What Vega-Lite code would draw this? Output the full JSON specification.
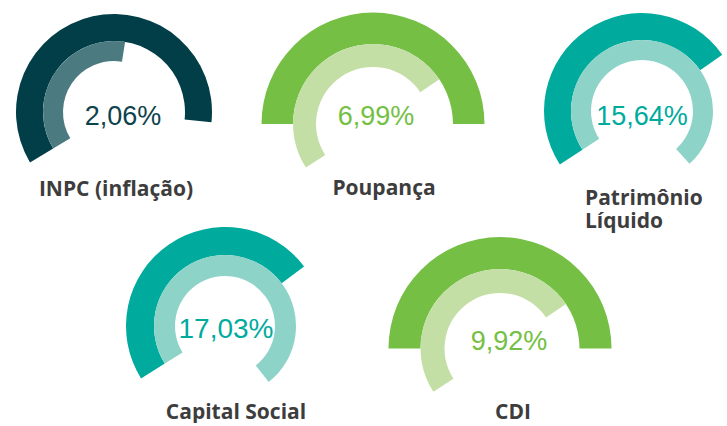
{
  "$schema": "https://vega.github.io/schema/vega-lite/v6.json",
  "padding": {"left": 16, "top": 12, "right": 0, "bottom": 0},
  "background": "white",
  "config": {"view": {"stroke": null}},
  "datasets": {
    "arcos": [
      {"indicador": "INPC", "anel": "externo", "inicio": -121, "fim": 96},
      {"indicador": "INPC", "anel": "interno", "inicio": -121, "fim": 9},
      {"indicador": "Poupança", "anel": "externo", "inicio": -90, "fim": 90},
      {"indicador": "Poupança", "anel": "interno", "inicio": -123, "fim": 56},
      {"indicador": "PL", "anel": "externo", "inicio": -123, "fim": 55},
      {"indicador": "PL", "anel": "interno", "inicio": -123, "fim": 138},
      {"indicador": "CS", "anel": "externo", "inicio": -122, "fim": 53},
      {"indicador": "CS", "anel": "interno", "inicio": -122, "fim": 142},
      {"indicador": "CDI", "anel": "externo", "inicio": -90, "fim": 90},
      {"indicador": "CDI", "anel": "interno", "inicio": -123, "fim": 56}
    ],
    "rotulos": [
      {"indicador": "INPC", "valor": "2,06%", "nome": "INPC (inflação)"},
      {"indicador": "Poupança", "valor": "6,99%", "nome": "Poupança"},
      {"indicador": "PL", "valor": "15,64%", "nome": "Patrimônio\nLíquido"},
      {"indicador": "CS", "valor": "17,03%", "nome": "Capital Social"},
      {"indicador": "CDI", "valor": "9,92%", "nome": "CDI"}
    ]
  },
  "bounds": "flush",
  "spacing": 220,
  "vconcat": [
    {
      "bounds": "flush",
      "spacing": 159,
      "hconcat": [
        {
          "width": 100, "height": 104,
          "layer": [
            {"data": {"name": "arcos"}, "transform": [{"filter": "datum.indicador === 'INPC' && datum.anel === 'externo'"}],
             "mark": {"type": "arc", "radius": 98, "radius2": 71, "color": "#023e47"},
             "encoding": {"theta": {"field": "inicio", "type": "quantitative", "stack": null, "scale": {"type": "linear", "domain": [-180, 180], "range": [-3.14159265, 3.14159265], "zero": false, "nice": false}}, "theta2": {"field": "fim"}}},
            {"data": {"name": "arcos"}, "transform": [{"filter": "datum.indicador === 'INPC' && datum.anel === 'interno'"}],
             "mark": {"type": "arc", "radius": 71, "radius2": 51, "color": "#4b7a80"},
             "encoding": {"theta": {"field": "inicio", "type": "quantitative", "stack": null, "scale": {"type": "linear", "domain": [-180, 180], "range": [-3.14159265, 3.14159265], "zero": false, "nice": false}}, "theta2": {"field": "fim"}}},
            {"data": {"name": "rotulos"}, "transform": [{"filter": "datum.indicador === 'INPC'"}],
             "mark": {"type": "text", "font": "Liberation Sans", "fontSize": 27, "color": "#0d434b", "align": "center", "baseline": "alphabetic", "dx": 9, "dy": 13},
             "encoding": {"text": {"field": "valor", "type": "nominal"}}},
            {"data": {"name": "rotulos"}, "transform": [{"filter": "datum.indicador === 'INPC'"}],
             "mark": {"type": "text", "font": "Open Sans", "fontWeight": "bold", "fontSize": 21, "color": "#3d3d3d", "align": "center", "baseline": "alphabetic", "dx": 2, "dy": 84},
             "encoding": {"text": {"field": "nome", "type": "nominal"}}}
          ]
        },
        {
          "width": 100, "height": 128,
          "layer": [
            {"data": {"name": "arcos"}, "transform": [{"filter": "datum.indicador === 'Poupança' && datum.anel === 'externo'"}],
             "mark": {"type": "arc", "radius": 111.5, "radius2": 80, "color": "#74bf44"},
             "encoding": {"theta": {"field": "inicio", "type": "quantitative", "stack": null, "scale": {"type": "linear", "domain": [-180, 180], "range": [-3.14159265, 3.14159265], "zero": false, "nice": false}}, "theta2": {"field": "fim"}}},
            {"data": {"name": "arcos"}, "transform": [{"filter": "datum.indicador === 'Poupança' && datum.anel === 'interno'"}],
             "mark": {"type": "arc", "radius": 80, "radius2": 57, "color": "#c3dfa6"},
             "encoding": {"theta": {"field": "inicio", "type": "quantitative", "stack": null, "scale": {"type": "linear", "domain": [-180, 180], "range": [-3.14159265, 3.14159265], "zero": false, "nice": false}}, "theta2": {"field": "fim"}}},
            {"data": {"name": "rotulos"}, "transform": [{"filter": "datum.indicador === 'Poupança'"}],
             "mark": {"type": "text", "font": "Liberation Sans", "fontSize": 27, "color": "#74bf44", "align": "center", "baseline": "alphabetic", "dx": 3, "dy": 1},
             "encoding": {"text": {"field": "valor", "type": "nominal"}}},
            {"data": {"name": "rotulos"}, "transform": [{"filter": "datum.indicador === 'Poupança'"}],
             "mark": {"type": "text", "font": "Open Sans", "fontWeight": "bold", "fontSize": 21, "color": "#3d3d3d", "align": "center", "baseline": "alphabetic", "dx": 11, "dy": 71},
             "encoding": {"text": {"field": "nome", "type": "nominal"}}}
          ]
        },
        {
          "width": 120, "height": 102,
          "layer": [
            {"data": {"name": "arcos"}, "transform": [{"filter": "datum.indicador === 'PL' && datum.anel === 'externo'"}],
             "mark": {"type": "arc", "radius": 98, "radius2": 71, "color": "#00ab9d"},
             "encoding": {"theta": {"field": "inicio", "type": "quantitative", "stack": null, "scale": {"type": "linear", "domain": [-180, 180], "range": [-3.14159265, 3.14159265], "zero": false, "nice": false}}, "theta2": {"field": "fim"}}},
            {"data": {"name": "arcos"}, "transform": [{"filter": "datum.indicador === 'PL' && datum.anel === 'interno'"}],
             "mark": {"type": "arc", "radius": 71, "radius2": 51, "color": "#8dd3c8"},
             "encoding": {"theta": {"field": "inicio", "type": "quantitative", "stack": null, "scale": {"type": "linear", "domain": [-180, 180], "range": [-3.14159265, 3.14159265], "zero": false, "nice": false}}, "theta2": {"field": "fim"}}},
            {"data": {"name": "rotulos"}, "transform": [{"filter": "datum.indicador === 'PL'"}],
             "mark": {"type": "text", "font": "Liberation Sans", "fontSize": 27, "color": "#00ab9d", "align": "center", "baseline": "alphabetic", "dx": 0, "dy": 14},
             "encoding": {"text": {"field": "valor", "type": "nominal"}}},
            {"data": {"name": "rotulos"}, "transform": [{"filter": "datum.indicador === 'PL'"}],
             "mark": {"type": "text", "font": "Open Sans", "fontWeight": "bold", "fontSize": 21, "color": "#3d3d3d", "align": "left", "baseline": "alphabetic", "dx": -57, "dy": 94, "lineBreak": "\n", "lineHeight": 23},
             "encoding": {"text": {"field": "nome", "type": "nominal"}}}
          ]
        }
      ]
    },
    {
      "bounds": "flush",
      "spacing": 64,
      "hconcat": [
        {
          "width": 322, "height": 92,
          "layer": [
            {"data": {"name": "arcos"}, "transform": [{"filter": "datum.indicador === 'CS' && datum.anel === 'externo'"}],
             "mark": {"type": "arc", "radius": 99, "radius2": 71, "color": "#00ab9d"},
             "encoding": {"theta": {"field": "inicio", "type": "quantitative", "stack": null, "scale": {"type": "linear", "domain": [-180, 180], "range": [-3.14159265, 3.14159265], "zero": false, "nice": false}}, "theta2": {"field": "fim"}}},
            {"data": {"name": "arcos"}, "transform": [{"filter": "datum.indicador === 'CS' && datum.anel === 'interno'"}],
             "mark": {"type": "arc", "radius": 71, "radius2": 50, "color": "#8dd3c8"},
             "encoding": {"theta": {"field": "inicio", "type": "quantitative", "stack": null, "scale": {"type": "linear", "domain": [-180, 180], "range": [-3.14159265, 3.14159265], "zero": false, "nice": false}}, "theta2": {"field": "fim"}}},
            {"data": {"name": "rotulos"}, "transform": [{"filter": "datum.indicador === 'CS'"}],
             "mark": {"type": "text", "font": "Liberation Sans", "fontSize": 28, "color": "#00ab9d", "align": "center", "baseline": "alphabetic", "dx": 1, "dy": 12},
             "encoding": {"text": {"field": "valor", "type": "nominal"}}},
            {"data": {"name": "rotulos"}, "transform": [{"filter": "datum.indicador === 'CS'"}],
             "mark": {"type": "text", "font": "Open Sans", "fontWeight": "bold", "fontSize": 21, "color": "#3d3d3d", "align": "center", "baseline": "alphabetic", "dx": 11, "dy": 93},
             "encoding": {"text": {"field": "nome", "type": "nominal"}}}
          ]
        },
        {
          "width": 100, "height": 137,
          "layer": [
            {"data": {"name": "arcos"}, "transform": [{"filter": "datum.indicador === 'CDI' && datum.anel === 'externo'"}],
             "mark": {"type": "arc", "radius": 111.5, "radius2": 79.5, "color": "#74bf44"},
             "encoding": {"theta": {"field": "inicio", "type": "quantitative", "stack": null, "scale": {"type": "linear", "domain": [-180, 180], "range": [-3.14159265, 3.14159265], "zero": false, "nice": false}}, "theta2": {"field": "fim"}}},
            {"data": {"name": "arcos"}, "transform": [{"filter": "datum.indicador === 'CDI' && datum.anel === 'interno'"}],
             "mark": {"type": "arc", "radius": 79.5, "radius2": 55.5, "color": "#c3dfa6"},
             "encoding": {"theta": {"field": "inicio", "type": "quantitative", "stack": null, "scale": {"type": "linear", "domain": [-180, 180], "range": [-3.14159265, 3.14159265], "zero": false, "nice": false}}, "theta2": {"field": "fim"}}},
            {"data": {"name": "rotulos"}, "transform": [{"filter": "datum.indicador === 'CDI'"}],
             "mark": {"type": "text", "font": "Liberation Sans", "fontSize": 27, "color": "#74bf44", "align": "center", "baseline": "alphabetic", "dx": 9, "dy": 1},
             "encoding": {"text": {"field": "valor", "type": "nominal"}}},
            {"data": {"name": "rotulos"}, "transform": [{"filter": "datum.indicador === 'CDI'"}],
             "mark": {"type": "text", "font": "Open Sans", "fontWeight": "bold", "fontSize": 21, "color": "#3d3d3d", "align": "center", "baseline": "alphabetic", "dx": 13, "dy": 70},
             "encoding": {"text": {"field": "nome", "type": "nominal"}}}
          ]
        }
      ]
    }
  ]
}
